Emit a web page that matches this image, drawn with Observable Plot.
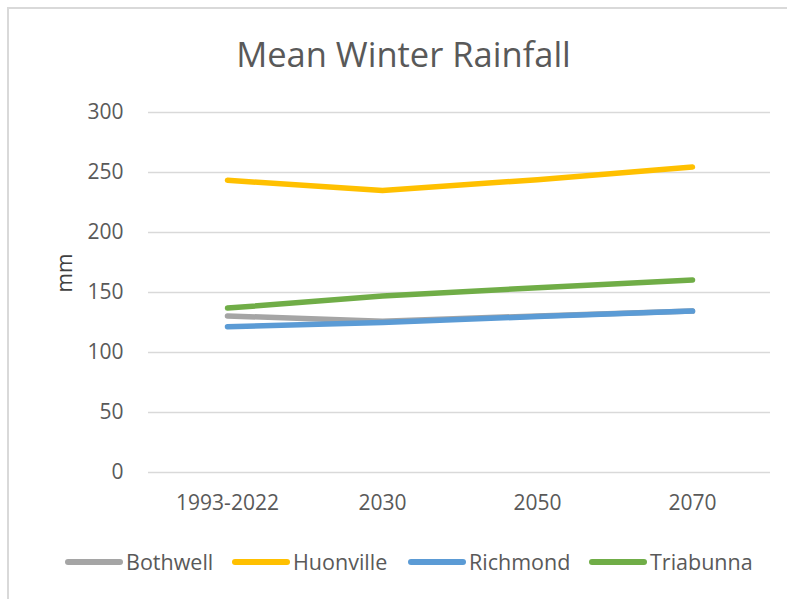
<!DOCTYPE html>
<html><head><meta charset="utf-8">
<script src="https://cdn.jsdelivr.net/npm/d3@7"></script>
<script src="https://cdn.jsdelivr.net/npm/@observablehq/plot@0.6"></script>
<style>
body{margin:0;background:#fff;font-family:"Open Sans",sans-serif;}
#wrap{position:relative;width:787px;height:599px;overflow:hidden;background:#fff;}
#frame{position:absolute;left:7px;top:7px;width:800px;height:620px;border-left:2px solid #d9d9d9;border-top:2px solid #d9d9d9;}
#title{position:absolute;left:0;width:807px;top:31px;text-align:center;font-size:34.5px;line-height:46px;color:#595959;}
#chart{position:absolute;left:0;top:0;}
#legend{position:absolute;top:548px;left:0;width:787px;height:28px;font-size:21.5px;line-height:28px;color:#595959;}
.item{position:absolute;top:0;display:flex;align-items:center;height:28px;white-space:nowrap;}
.sw{width:58px;height:6px;border-radius:3px;margin-right:3px;}
</style></head>
<body><div id="wrap"><div id="frame"></div><div id="title">Mean Winter Rainfall</div><div id="chart"></div><div id="legend"></div></div>
<script>
const periods = ["1993-2022","2030","2050","2070"];
const seriesNames = ["Bothwell","Huonville","Richmond","Triabunna"];
const colors = ["#a5a5a5","#ffc000","#5b9bd5","#70ad47"];
const bothwell = [130.5,126,130.5,134.5];
const huonville = [243.5,235,244,254.5];
const richmond = [121.5,125,130,134.5];
const triabunna = [137,147,154,160.5];
const yTicks = [0,50,100,150,200,250,300];

const valuesBy = [bothwell,huonville,richmond,triabunna];
const data = [];
seriesNames.forEach((s,i)=>periods.forEach((p,j)=>data.push({series:s,period:p,value:valuesBy[i][j]})));

const chart = Plot.plot({
  width:787, height:540,
  marginLeft:148, marginRight:17, marginTop:112, marginBottom:68,
  style:{background:"transparent",fontFamily:"'Open Sans',sans-serif",fontSize:"21px",color:"#595959"},
  x:{type:"point",domain:periods,padding:0.5,label:null},
  y:{domain:[0,300],label:null},
  color:{domain:seriesNames,range:colors},
  marks:[
    Plot.gridY(yTicks,{stroke:"#d9d9d9",strokeOpacity:1,strokeWidth:1.5}),
    Plot.axisX({tickSize:0,tickPadding:23,fontSize:21,fill:"#595959",label:null}),
    Plot.axisY(yTicks,{tickSize:0,tickPadding:25,fontSize:21,fill:"#595959",label:null}),
    Plot.line(data,{x:"period",y:"value",z:"series",stroke:"series",strokeWidth:5.5,strokeLinecap:"round",strokeLinejoin:"round"}),
    Plot.text(["mm"],{frameAnchor:"left",dx:-83,rotate:-90,fontSize:21,fill:"#404040",text:d=>d})
  ]
});
document.getElementById("chart").appendChild(chart);

const legendLeft = [65,232,408,589];
const leg = document.getElementById("legend");
seriesNames.forEach((s,i)=>{
  const it=document.createElement("div");it.className="item";it.style.left=legendLeft[i]+"px";
  const sw=document.createElement("div");sw.className="sw";sw.style.background=colors[i];
  const t=document.createElement("span");t.textContent=s;
  it.appendChild(sw);it.appendChild(t);leg.appendChild(it);
});
</script></body></html>
